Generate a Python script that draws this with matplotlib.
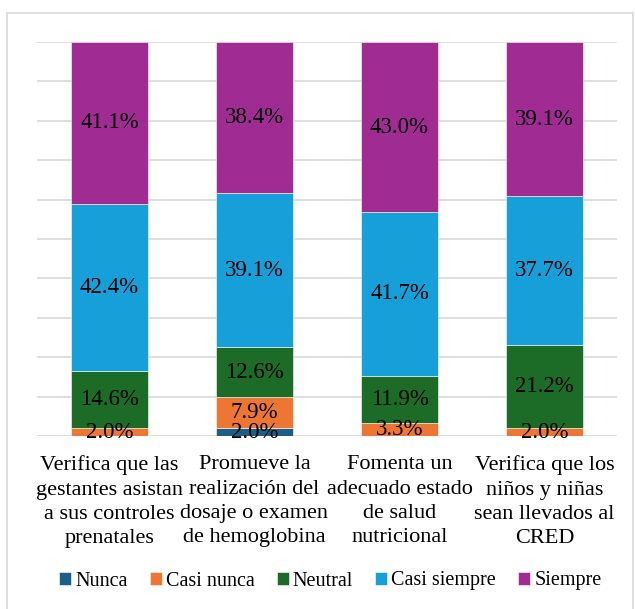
import matplotlib.pyplot as plt
from matplotlib.patches import Rectangle
import numpy as np

plt.rcParams['font.family'] = ['Liberation Serif', 'DejaVu Serif']

categorias = ["Verifica que las\ngestantes asistan\na sus controles\nprenatales",
              "Promueve la\nrealización del\ndosaje o examen\nde hemoglobina",
              "Fomenta un\nadecuado estado\nde salud\nnutricional",
              "Verifica que los\nniños y niñas\nsean llevados al\nCRED"]
series = ["Nunca", "Casi nunca", "Neutral", "Casi siempre", "Siempre"]
nunca = [0.0, 2.0, 0.0, 0.0]
casi_nunca = [2.0, 7.9, 3.3, 2.0]
neutral = [14.6, 12.6, 11.9, 21.2]
casi_siempre = [42.4, 39.1, 41.7, 37.7]
siempre = [41.1, 38.4, 43.0, 39.1]
colores = ["#1B5F87", "#ED7633", "#1C6B27", "#169FD8", "#A02B93"]

valores = [nunca, casi_nunca, neutral, casi_siempre, siempre]

fig = plt.figure(figsize=(6.35, 6.09), dpi=100)
ax = fig.add_axes([37/635, 1-436/609, 580/635, 394/609])

x = np.arange(len(categorias))
base = np.zeros(len(categorias))
for nombre, vals, col in zip(series, valores, colores):
    vals = np.array(vals)
    ax.bar(x, vals, 0.525, bottom=base, color=col, label=nombre,
           edgecolor='white', linewidth=0.4, zorder=3)
    for xi, b, v in zip(x, base, vals):
        if v > 0:
            ax.text(xi, b + v/2, f"{v:.1f}%", ha='center', va='center',
                    fontsize=16.5, color='black', zorder=4)
    base = base + vals

ax.set_xlim(-0.5, 3.5)
ax.set_ylim(0, 100)
ax.set_yticks(np.arange(0, 101, 10))
ax.yaxis.grid(True, color='#D9D9D9', linewidth=1.2, zorder=0)
ax.tick_params(axis='y', length=0, labelleft=False)
ax.set_xticks(x)
ax.set_xticklabels(categorias, fontsize=16, linespacing=1.38)
ax.tick_params(axis='x', length=0, pad=14)
for s in ax.spines.values():
    s.set_visible(False)

fig.legend(loc='center', bbox_to_anchor=(0.52, 1-581/609), ncol=5, frameon=False,
           fontsize=14.5, handlelength=0.6, handleheight=0.6, handletextpad=0.2,
           columnspacing=1.1)

fig.patches.append(Rectangle((7/635, -0.01), 626/635, 1-13/609+0.01,
                             transform=fig.transFigure, fill=False,
                             edgecolor='#D9D9D9', linewidth=1.2))

fig.savefig("out.png", dpi=100)
